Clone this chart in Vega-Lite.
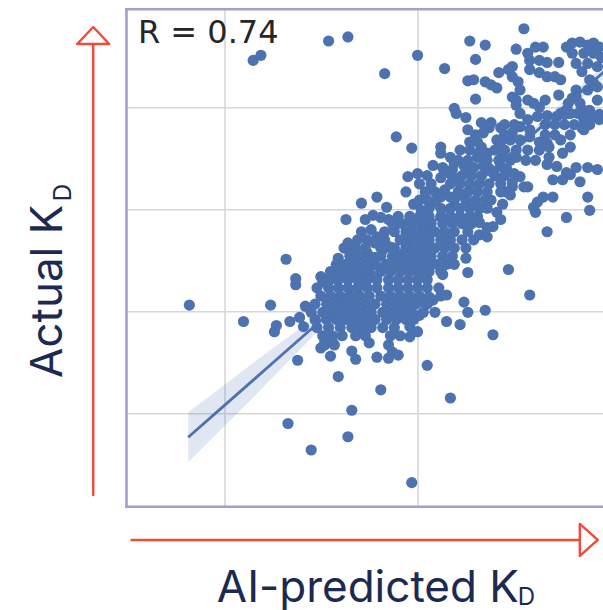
{
"$schema": "https://vega.github.io/schema/vega-lite/v6.json",
"width": 476.5,
"height": 497.4,
"autosize": "none",
"padding": {"left": 126.5, "top": 9.3, "right": 0, "bottom": 103.3},
"background": "white",
"config": {"view": {"stroke": null}, "axis": {"grid": true, "gridColor": "#d7d7d7", "gridWidth": 1.6, "domain": false, "ticks": false, "labels": false}},
"datasets": {
"pts": [
{"pred":4.82,"act":6.06},{"pred":5.10,"act":5.90},{"pred":5.15,"act":8.46},{"pred":5.19,"act":8.51},{"pred":5.54,"act":8.65},{"pred":5.64,"act":8.69},{"pred":5.83,"act":8.33},{"pred":6.00,"act":8.51},{"pred":5.89,"act":7.71},{"pred":5.97,"act":7.60},
{"pred":5.33,"act":4.90},{"pred":5.45,"act":4.64},{"pred":5.64,"act":4.77},{"pred":5.66,"act":5.03},{"pred":5.97,"act":4.32},{"pred":6.17,"act":5.15},{"pred":5.81,"act":5.23},{"pred":6.05,"act":5.47},{"pred":5.59,"act":5.36},{"pred":5.38,"act":5.52},
{"pred":5.32,"act":6.51},{"pred":5.37,"act":6.32},{"pred":5.37,"act":6.26},{"pred":5.24,"act":6.06},{"pred":5.26,"act":5.80},{"pred":5.27,"act":5.86},{"pred":5.34,"act":5.90},{"pred":5.39,"act":5.94},{"pred":5.42,"act":6.05},{"pred":5.41,"act":5.85},
{"pred":5.50,"act":6.34},{"pred":5.51,"act":6.29},{"pred":5.63,"act":6.90},{"pred":5.71,"act":7.06},{"pred":5.79,"act":7.12},{"pred":5.84,"act":7.02},{"pred":6.39,"act":5.77},{"pred":6.35,"act":6.01},{"pred":6.58,"act":6.16},{"pred":6.47,"act":6.41},
{"pred":6.67,"act":6.78},{"pred":6.77,"act":6.92},{"pred":6.89,"act":6.99},{"pred":6.88,"act":7.12},{"pred":6.26,"act":6.38},{"pred":6.24,"act":6.09},{"pred":6.26,"act":5.99},{"pred":6.15,"act":5.90},{"pred":6.22,"act":5.87},{"pred":6.15,"act":6.16},
{"pred":6.13,"act":6.36},{"pred":6.01,"act":6.38},{"pred":6.27,"act":8.65},{"pred":6.35,"act":8.61},{"pred":6.55,"act":8.77},{"pred":6.14,"act":8.38},{"pred":6.30,"act":8.47},{"pred":6.51,"act":8.57},{"pred":6.26,"act":8.26},{"pred":6.29,"act":8.27},
{"pred":6.30,"act":8.08},{"pred":6.19,"act":7.99},{"pred":6.20,"act":7.94},{"pred":6.25,"act":7.90},{"pred":6.26,"act":7.78},{"pred":6.12,"act":7.61},{"pred":6.12,"act":7.55},{"pred":6.17,"act":7.51},{"pred":6.08,"act":7.43},{"pred":5.95,"act":7.32},
{"pred":6.00,"act":7.35},{"pred":5.94,"act":7.17},{"pred":5.98,"act":7.05},{"pred":6.02,"act":6.99},{"pred":5.75,"act":5.69},{"pred":5.79,"act":5.55},{"pred":5.85,"act":5.54},{"pred":5.87,"act":5.60},{"pred":5.90,"act":5.57},{"pred":5.66,"act":5.61},
{"pred":5.68,"act":5.53},{"pred":5.55,"act":5.56},{"pred":5.50,"act":5.64},{"pred":5.52,"act":5.70},{"pred":5.56,"act":5.70},{"pred":5.96,"act":5.75},{"pred":5.96,"act":5.85},{"pred":6.00,"act":5.80},{"pred":6.01,"act":6.09},{"pred":6.01,"act":5.96},
{"pred":6.08,"act":6.11},{"pred":6.09,"act":5.99},{"pred":6.06,"act":6.14},
{"pred":6.35,"act":8.25},{"pred":6.38,"act":8.22},{"pred":6.41,"act":8.19},{"pred":6.42,"act":8.34},{"pred":6.47,"act":8.37},{"pred":6.49,"act":8.40},{"pred":6.49,"act":8.30},{"pred":6.52,"act":8.25},{"pred":6.53,"act":8.17},{"pred":6.57,"act":8.53},
{"pred":6.61,"act":8.59},{"pred":6.65,"act":8.59},{"pred":6.58,"act":8.46},{"pred":6.63,"act":8.46},{"pred":6.67,"act":8.44},{"pred":6.73,"act":8.44},{"pred":6.58,"act":8.37},{"pred":6.63,"act":8.34},{"pred":6.67,"act":8.30},{"pred":6.71,"act":8.30},
{"pred":6.74,"act":8.27},{"pred":6.73,"act":8.12},{"pred":6.66,"act":8.07},{"pred":6.60,"act":8.04},{"pred":6.57,"act":8.07},{"pred":6.51,"act":8.02},{"pred":6.49,"act":8.10},{"pred":6.77,"act":8.59},{"pred":6.80,"act":8.63},{"pred":6.84,"act":8.64},
{"pred":6.88,"act":8.61},{"pred":6.91,"act":8.63},{"pred":6.94,"act":8.59},{"pred":6.80,"act":8.53},{"pred":6.86,"act":8.53},{"pred":6.91,"act":8.53},{"pred":6.95,"act":8.49},{"pred":6.82,"act":8.43},{"pred":6.88,"act":8.43},{"pred":6.93,"act":8.40},
{"pred":6.85,"act":8.35},{"pred":6.89,"act":8.27},{"pred":6.93,"act":8.20},{"pred":6.82,"act":8.17},{"pred":6.80,"act":8.09},{"pred":6.78,"act":8.04},{"pred":6.93,"act":8.07},{"pred":6.89,"act":7.97},{"pred":6.33,"act":7.85},{"pred":6.38,"act":7.85},
{"pred":6.43,"act":7.80},{"pred":6.34,"act":7.75},{"pred":6.37,"act":7.80},{"pred":6.41,"act":7.68},{"pred":6.53,"act":7.94},{"pred":6.57,"act":7.88},{"pred":6.62,"act":7.91},{"pred":6.67,"act":7.92},{"pred":6.63,"act":8.00},{"pred":6.51,"act":8.07},
{"pred":6.58,"act":7.78},{"pred":6.53,"act":7.81},{"pred":6.49,"act":7.75},{"pred":6.48,"act":7.68},{"pred":6.53,"act":7.68},{"pred":6.58,"act":7.71},{"pred":6.51,"act":7.58},{"pred":6.32,"act":7.56},{"pred":6.36,"act":7.55},{"pred":6.33,"act":7.61},
{"pred":6.31,"act":7.51},{"pred":6.29,"act":7.41},{"pred":6.26,"act":7.36},{"pred":6.63,"act":7.58},{"pred":6.68,"act":7.61},{"pred":6.74,"act":7.68},{"pred":6.68,"act":7.51},{"pred":6.75,"act":7.55},{"pred":6.79,"act":7.61},{"pred":6.67,"act":7.65},
{"pred":6.72,"act":7.91},{"pred":6.79,"act":7.94},{"pred":6.83,"act":7.94},{"pred":6.86,"act":7.88},{"pred":6.85,"act":7.80},{"pred":6.82,"act":8.10},{"pred":6.74,"act":7.94},{"pred":6.77,"act":7.97},{"pred":6.84,"act":8.04},{"pred":6.86,"act":7.97},
{"pred":6.91,"act":7.91},{"pred":6.94,"act":7.88},{"pred":6.86,"act":7.78},{"pred":6.91,"act":8.24},{"pred":6.88,"act":8.17},{"pred":6.44,"act":7.51},{"pred":6.48,"act":7.48},{"pred":6.51,"act":7.51},{"pred":6.39,"act":7.36},{"pred":6.43,"act":7.42},
{"pred":6.55,"act":7.22},{"pred":6.49,"act":7.22},{"pred":6.46,"act":7.17},
{"pred":6.13,"act":7.41},{"pred":6.18,"act":7.39},{"pred":6.19,"act":7.45},{"pred":6.24,"act":7.43},{"pred":6.12,"act":7.31},{"pred":6.14,"act":7.36},{"pred":6.18,"act":7.32},{"pred":6.09,"act":7.17},{"pred":6.12,"act":7.12},{"pred":6.14,"act":7.19},
{"pred":6.09,"act":7.07},{"pred":6.17,"act":7.12},{"pred":6.26,"act":7.46},{"pred":6.28,"act":7.39},{"pred":6.34,"act":7.43},{"pred":6.37,"act":7.40},{"pred":6.46,"act":7.40},{"pred":6.50,"act":7.35},{"pred":6.53,"act":7.32},{"pred":6.57,"act":7.22},
{"pred":6.49,"act":7.26},{"pred":6.43,"act":7.17},{"pred":6.48,"act":7.14},{"pred":6.44,"act":7.05},{"pred":6.41,"act":6.97},{"pred":6.43,"act":6.90},{"pred":6.39,"act":6.83},{"pred":6.60,"act":7.02},{"pred":6.62,"act":7.07},{"pred":6.65,"act":7.12},
{"pred":6.70,"act":7.12},{"pred":6.61,"act":6.97},{"pred":6.75,"act":7.29},{"pred":6.79,"act":7.34},{"pred":6.84,"act":7.27},{"pred":6.82,"act":7.41},{"pred":6.88,"act":7.41},{"pred":6.93,"act":7.39},{"pred":6.72,"act":7.42},{"pred":6.67,"act":7.44},
{"pred":6.77,"act":7.36},{"pred":6.70,"act":7.29},{"pred":6.25,"act":6.62},{"pred":6.25,"act":6.52},{"pred":6.29,"act":6.70},{"pred":6.32,"act":6.75},{"pred":6.36,"act":6.73},{"pred":6.36,"act":6.82},{"pred":6.32,"act":6.87},{"pred":6.06,"act":6.47},
{"pred":6.00,"act":6.57},{"pred":5.95,"act":6.63},{"pred":5.96,"act":6.41},{"pred":5.92,"act":6.50},
{"pred":5.73,"act":6.90},{"pred":5.77,"act":6.94},{"pred":5.81,"act":6.92},{"pred":5.85,"act":6.90},{"pred":5.88,"act":6.83},{"pred":5.71,"act":6.78},{"pred":5.76,"act":6.80},{"pred":5.79,"act":6.73},{"pred":5.78,"act":6.67},{"pred":5.64,"act":6.67},
{"pred":5.62,"act":6.62},{"pred":5.65,"act":6.58},{"pred":5.59,"act":6.52},{"pred":5.56,"act":6.32},{"pred":5.61,"act":6.37},{"pred":5.68,"act":6.38},{"pred":5.71,"act":6.35},{"pred":5.74,"act":6.57},{"pred":5.78,"act":6.53},{"pred":5.82,"act":6.60},
{"pred":5.86,"act":6.63},{"pred":5.88,"act":6.57},{"pred":5.82,"act":6.43},{"pred":5.85,"act":6.41},{"pred":5.88,"act":6.47},
{"pred":5.52,"act":5.67},{"pred":5.57,"act":5.67},{"pred":5.85,"act":5.67},
{"pred":5.51,"act":5.76},{"pred":5.56,"act":5.76},{"pred":5.61,"act":5.76},{"pred":5.68,"act":5.76},{"pred":5.73,"act":5.76},{"pred":5.86,"act":5.76},{"pred":5.91,"act":5.76},
{"pred":5.48,"act":5.84},{"pred":5.54,"act":5.84},{"pred":5.60,"act":5.84},{"pred":5.66,"act":5.84},{"pred":5.71,"act":5.84},{"pred":5.76,"act":5.84},{"pred":5.82,"act":5.84},{"pred":5.88,"act":5.84},
{"pred":5.47,"act":5.92},{"pred":5.53,"act":5.92},{"pred":5.58,"act":5.92},{"pred":5.63,"act":5.92},{"pred":5.68,"act":5.92},{"pred":5.73,"act":5.92},{"pred":5.78,"act":5.92},{"pred":5.84,"act":5.92},{"pred":5.89,"act":5.92},{"pred":5.94,"act":5.92},{"pred":5.98,"act":5.92},
{"pred":5.45,"act":5.99},{"pred":5.51,"act":5.99},{"pred":5.56,"act":5.99},{"pred":5.61,"act":5.99},{"pred":5.66,"act":5.99},{"pred":5.71,"act":5.99},{"pred":5.76,"act":5.99},{"pred":5.82,"act":5.99},{"pred":5.87,"act":5.99},{"pred":5.92,"act":5.99},{"pred":5.97,"act":5.99},{"pred":6.03,"act":5.99},
{"pred":5.47,"act":6.07},{"pred":5.53,"act":6.07},{"pred":5.58,"act":6.07},{"pred":5.63,"act":6.07},{"pred":5.68,"act":6.07},{"pred":5.73,"act":6.07},{"pred":5.78,"act":6.07},{"pred":5.84,"act":6.07},{"pred":5.89,"act":6.07},{"pred":5.94,"act":6.07},{"pred":5.99,"act":6.07},{"pred":6.05,"act":6.07},
{"pred":5.50,"act":6.15},{"pred":5.55,"act":6.15},{"pred":5.60,"act":6.15},{"pred":5.65,"act":6.15},{"pred":5.70,"act":6.15},{"pred":5.75,"act":6.15},{"pred":5.81,"act":6.15},{"pred":5.86,"act":6.15},{"pred":5.91,"act":6.15},{"pred":5.96,"act":6.15},{"pred":6.01,"act":6.15},{"pred":6.12,"act":6.15},
{"pred":5.48,"act":6.23},{"pred":5.54,"act":6.23},{"pred":5.59,"act":6.23},{"pred":5.64,"act":6.23},{"pred":5.69,"act":6.23},{"pred":5.74,"act":6.23},{"pred":5.79,"act":6.23},{"pred":5.85,"act":6.23},{"pred":5.90,"act":6.23},{"pred":5.95,"act":6.23},{"pred":6.00,"act":6.23},{"pred":6.05,"act":6.23},{"pred":6.11,"act":6.23},
{"pred":5.53,"act":6.31},{"pred":5.59,"act":6.31},{"pred":5.64,"act":6.31},{"pred":5.69,"act":6.31},{"pred":5.74,"act":6.31},{"pred":5.79,"act":6.31},{"pred":5.85,"act":6.31},{"pred":5.90,"act":6.31},{"pred":5.95,"act":6.31},{"pred":6.00,"act":6.31},{"pred":6.05,"act":6.31},
{"pred":5.55,"act":6.39},{"pred":5.60,"act":6.39},{"pred":5.65,"act":6.39},{"pred":5.70,"act":6.39},{"pred":5.75,"act":6.39},{"pred":5.81,"act":6.39},{"pred":5.86,"act":6.39},{"pred":5.91,"act":6.39},{"pred":5.96,"act":6.39},{"pred":6.01,"act":6.39},{"pred":6.06,"act":6.39},{"pred":6.12,"act":6.39},
{"pred":5.58,"act":6.46},{"pred":5.63,"act":6.46},{"pred":5.68,"act":6.46},{"pred":5.73,"act":6.46},{"pred":5.78,"act":6.46},{"pred":5.84,"act":6.46},{"pred":5.89,"act":6.46},{"pred":5.94,"act":6.46},{"pred":5.99,"act":6.46},{"pred":6.04,"act":6.46},{"pred":6.10,"act":6.46},{"pred":6.15,"act":6.46},{"pred":6.19,"act":6.46},
{"pred":5.65,"act":6.54},{"pred":5.70,"act":6.54},{"pred":5.75,"act":6.54},{"pred":5.81,"act":6.54},{"pred":5.87,"act":6.54},{"pred":5.92,"act":6.54},{"pred":5.97,"act":6.54},{"pred":6.02,"act":6.54},{"pred":6.07,"act":6.54},{"pred":6.13,"act":6.54},{"pred":6.18,"act":6.54},
{"pred":5.68,"act":6.62},{"pred":5.73,"act":6.62},{"pred":5.81,"act":6.62},{"pred":5.88,"act":6.62},{"pred":5.94,"act":6.62},{"pred":5.99,"act":6.62},{"pred":6.04,"act":6.62},{"pred":6.09,"act":6.62},{"pred":6.14,"act":6.62},{"pred":6.19,"act":6.62},
{"pred":5.69,"act":6.70},{"pred":5.74,"act":6.70},{"pred":5.83,"act":6.70},{"pred":5.91,"act":6.70},{"pred":5.96,"act":6.70},{"pred":6.01,"act":6.70},{"pred":6.06,"act":6.70},{"pred":6.12,"act":6.70},{"pred":6.17,"act":6.70},{"pred":6.23,"act":6.70},
{"pred":5.83,"act":6.78},{"pred":5.88,"act":6.78},{"pred":5.94,"act":6.78},{"pred":5.99,"act":6.78},{"pred":6.04,"act":6.78},{"pred":6.09,"act":6.78},{"pred":6.14,"act":6.78},{"pred":6.19,"act":6.78},{"pred":6.26,"act":6.78},
{"pred":5.87,"act":6.86},{"pred":5.92,"act":6.86},{"pred":5.97,"act":6.86},{"pred":6.02,"act":6.86},{"pred":6.07,"act":6.86},{"pred":6.13,"act":6.86},{"pred":6.18,"act":6.86},{"pred":6.23,"act":6.86},{"pred":6.28,"act":6.86},
{"pred":5.90,"act":6.93},{"pred":5.96,"act":6.93},{"pred":6.01,"act":6.93},{"pred":6.06,"act":6.93},{"pred":6.12,"act":6.93},{"pred":6.17,"act":6.93},{"pred":6.22,"act":6.93},{"pred":6.27,"act":6.93},{"pred":6.31,"act":6.93},
{"pred":6.06,"act":7.01},{"pred":6.12,"act":7.01},{"pred":6.17,"act":7.01},{"pred":6.22,"act":7.01},{"pred":6.27,"act":7.01},{"pred":6.32,"act":7.01},{"pred":6.36,"act":7.01},
{"pred":6.01,"act":7.09},{"pred":6.05,"act":7.09},{"pred":6.19,"act":7.09},{"pred":6.25,"act":7.09},{"pred":6.30,"act":7.09},{"pred":6.35,"act":7.09},{"pred":6.38,"act":7.09},
{"pred":6.04,"act":7.17},{"pred":6.21,"act":7.17},{"pred":6.26,"act":7.17},{"pred":6.31,"act":7.17},{"pred":6.36,"act":7.17},
{"pred":6.01,"act":7.25},{"pred":6.07,"act":7.25},{"pred":6.17,"act":7.25},{"pred":6.22,"act":7.25},{"pred":6.27,"act":7.25},{"pred":6.32,"act":7.25},{"pred":6.37,"act":7.25},{"pred":6.43,"act":7.25},
{"pred":6.05,"act":7.33},{"pred":6.23,"act":7.33},{"pred":6.28,"act":7.33},{"pred":6.33,"act":7.33},{"pred":6.40,"act":7.33},{"pred":6.45,"act":7.33},
{"pred":6.21,"act":7.48},{"pred":6.26,"act":7.48},{"pred":6.36,"act":7.48},{"pred":6.42,"act":7.48},{"pred":6.56,"act":7.48},{"pred":6.61,"act":7.48},
{"pred":6.22,"act":7.58},{"pred":6.27,"act":7.58},{"pred":6.40,"act":7.58},{"pred":6.45,"act":7.58},{"pred":6.57,"act":7.58},
{"pred":6.27,"act":7.66},{"pred":6.31,"act":7.66},{"pred":6.43,"act":7.66},{"pred":6.63,"act":7.66},
{"pred":6.30,"act":7.73},{"pred":6.45,"act":7.73},{"pred":6.66,"act":7.73},{"pred":6.71,"act":7.73},{"pred":6.79,"act":7.73},
{"pred":6.45,"act":7.83},{"pred":6.50,"act":7.83},{"pred":6.66,"act":7.83},{"pred":6.71,"act":7.83},{"pred":6.76,"act":7.83},{"pred":6.81,"act":7.83},{"pred":6.89,"act":7.83},
{"pred":6.76,"act":7.93},{"pred":6.89,"act":7.93},{"pred":6.94,"act":7.93}
],
"fit": [
{"pred":4.814,"fit":4.765,"lo":4.520,"hi":5.010},
{"pred":4.978,"fit":5.038,"lo":4.832,"hi":5.244},
{"pred":5.159,"fit":5.340,"lo":5.173,"hi":5.507},
{"pred":5.340,"fit":5.642,"lo":5.524,"hi":5.760},
{"pred":5.495,"fit":5.900,"lo":5.822,"hi":5.978},
{"pred":5.702,"fit":6.245,"lo":6.196,"hi":6.294},
{"pred":6.012,"fit":6.762,"lo":6.723,"hi":6.801},
{"pred":6.322,"fit":7.279,"lo":7.240,"hi":7.318},
{"pred":6.632,"fit":7.796,"lo":7.747,"hi":7.845},
{"pred":7.000,"fit":8.409,"lo":8.340,"hi":8.478},
{"pred":7.051,"fit":8.494,"lo":8.422,"hi":8.566}
],
"frame": [
{"x1":4.495,"y1":4.084,"x2":4.495,"y2":8.961},
{"x1":4.495,"y1":8.961,"x2":7.05,"y2":8.961},
{"x1":4.495,"y1":4.084,"x2":7.05,"y2":4.084}
],
"arrows": [
{"g":"v","i":0,"x":4.323,"y":4.199},{"g":"v","i":1,"x":4.323,"y":8.621},
{"g":"vh","i":0,"x":4.240,"y":8.621},{"g":"vh","i":1,"x":4.323,"y":8.787},{"g":"vh","i":2,"x":4.406,"y":8.621},{"g":"vh","i":3,"x":4.240,"y":8.621},
{"g":"h","i":0,"x":4.521,"y":3.758},{"g":"h","i":1,"x":6.839,"y":3.758},
{"g":"hh","i":0,"x":6.839,"y":3.915},{"g":"hh","i":1,"x":6.932,"y":3.758},{"g":"hh","i":2,"x":6.839,"y":3.601},{"g":"hh","i":3,"x":6.839,"y":3.915}
]
},
"layer": [
{"data": {"name": "pts"}, "mark": {"type": "circle", "size": 125, "color": "#4c72b0", "opacity": 1, "clip": true},
 "encoding": {
  "x": {"field": "pred", "type": "quantitative", "title": null, "scale": {"domain": [4.495, 6.959], "nice": false, "zero": false}, "axis": {"values": [5, 6]}},
  "y": {"field": "act", "type": "quantitative", "title": null, "scale": {"domain": [4.084, 8.961], "nice": false, "zero": false}, "axis": {"values": [5, 6, 7, 8]}}}},
{"data": {"name": "fit"}, "mark": {"type": "area", "color": "#4c72b0", "opacity": 0.17, "clip": true},
 "encoding": {"x": {"field": "pred", "type": "quantitative", "title": null}, "y": {"field": "lo", "type": "quantitative", "title": null}, "y2": {"field": "hi"}}},
{"data": {"name": "fit"}, "mark": {"type": "line", "color": "#4c72b0", "strokeWidth": 2.8, "clip": true},
 "encoding": {"x": {"field": "pred", "type": "quantitative", "title": null}, "y": {"field": "fit", "type": "quantitative", "title": null}}},
{"data": {"name": "frame"}, "mark": {"type": "rule", "color": "#a59dca", "strokeWidth": 2.6, "strokeCap": "square"},
 "encoding": {"x": {"field": "x1", "type": "quantitative", "title": null}, "y": {"field": "y1", "type": "quantitative", "title": null}, "x2": {"field": "x2"}, "y2": {"field": "y2"}}},
{"data": {"name": "arrows"}, "mark": {"type": "line", "color": "#f4483a", "strokeWidth": 2.4, "strokeCap": "round", "strokeJoin": "round"},
 "encoding": {"x": {"field": "x", "type": "quantitative", "title": null}, "y": {"field": "y", "type": "quantitative", "title": null}, "detail": {"field": "g"}, "order": {"field": "i", "type": "quantitative"}}},
{"data": {"values": [{"x": 4.554, "y": 8.627, "t": "R = 0.74"}]}, "mark": {"type": "text", "align": "left", "baseline": "alphabetic", "font": "DejaVu Sans", "fontSize": 32, "color": "#262626"},
 "encoding": {"x": {"field": "x", "type": "quantitative", "title": null}, "y": {"field": "y", "type": "quantitative", "title": null}, "text": {"field": "t"}}},
{"data": {"values": [{"x": 4.962, "y": 3.150, "t": "AI-predicted K"}]}, "mark": {"type": "text", "align": "left", "baseline": "alphabetic", "font": "Inter", "fontSize": 44, "color": "#1b2a52"},
 "encoding": {"x": {"field": "x", "type": "quantitative", "title": null}, "y": {"field": "y", "type": "quantitative", "title": null}, "text": {"field": "t"}}},
{"data": {"values": [{"x": 6.518, "y": 3.116, "t": "D"}]}, "mark": {"type": "text", "align": "left", "baseline": "alphabetic", "font": "Inter", "fontSize": 24, "color": "#1b2a52"},
 "encoding": {"x": {"field": "x", "type": "quantitative", "title": null}, "y": {"field": "y", "type": "quantitative", "title": null}, "text": {"field": "t"}}},
{"data": {"values": [{"x": 4.161, "y": 5.346, "t": "Actual K"}]}, "mark": {"type": "text", "align": "left", "baseline": "alphabetic", "angle": 270, "font": "Inter", "fontSize": 44, "color": "#1b2a52"},
 "encoding": {"x": {"field": "x", "type": "quantitative", "title": null}, "y": {"field": "y", "type": "quantitative", "title": null}, "text": {"field": "t"}}},
{"data": {"values": [{"x": 4.207, "y": 7.08, "t": "D"}]}, "mark": {"type": "text", "align": "left", "baseline": "alphabetic", "angle": 270, "font": "Inter", "fontSize": 24, "color": "#1b2a52"},
 "encoding": {"x": {"field": "x", "type": "quantitative", "title": null}, "y": {"field": "y", "type": "quantitative", "title": null}, "text": {"field": "t"}}}
]
}
